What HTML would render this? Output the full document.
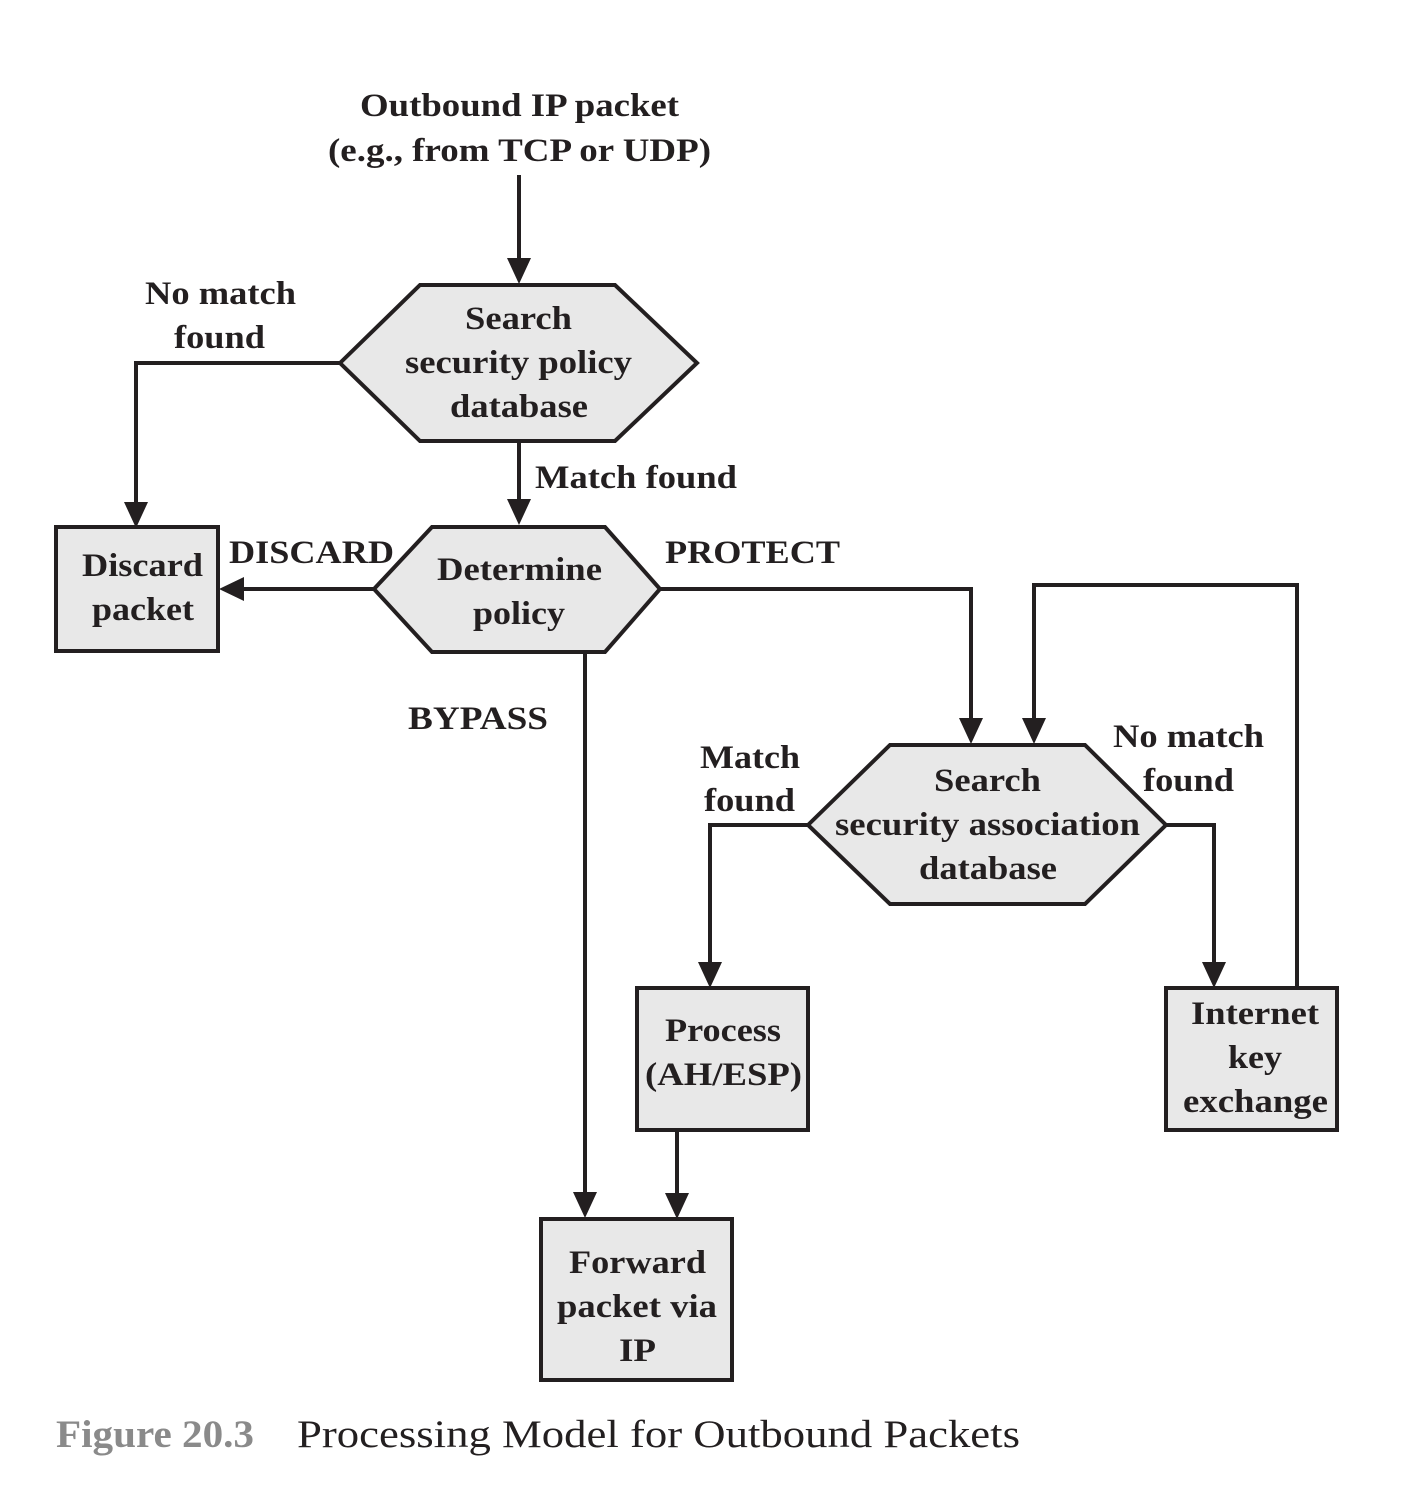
<!DOCTYPE html>
<html><head><meta charset="utf-8"><style>html,body{margin:0;padding:0;background:#fff}</style></head>
<body>
<svg width="1402" height="1500" viewBox="0 0 1402 1500" xmlns="http://www.w3.org/2000/svg">
<g stroke="#231f20" stroke-width="4" fill="none">
<line x1="519" y1="175" x2="519" y2="262"/>
<polyline points="340,363 136,363 136,506"/>
<line x1="519" y1="441" x2="519" y2="503"/>
<line x1="374" y1="589" x2="240" y2="589"/>
<polyline points="660,589 971,589 971,722"/>
<line x1="585" y1="652" x2="585" y2="1196"/>
<polyline points="1297,988 1297,585 1034,585 1034,722"/>
<polyline points="1166,825 1214,825 1214,966"/>
<polyline points="808,825 710,825 710,966"/>
<line x1="677" y1="1130" x2="677" y2="1197"/>
</g>
<g fill="#231f20">
<polygon points="507,258 531,258 519,284"/>
<polygon points="124,502 148,502 136,528"/>
<polygon points="507,499 531,499 519,525"/>
<polygon points="244,577 244,601 219,589"/>
<polygon points="959,718 983,718 971,744"/>
<polygon points="573,1192 597,1192 585,1218"/>
<polygon points="1022,718 1046,718 1034,744"/>
<polygon points="1202,962 1226,962 1214,988"/>
<polygon points="698,962 722,962 710,988"/>
<polygon points="665,1193 689,1193 677,1219"/>
</g>
<g stroke="#231f20" stroke-width="4" fill="#e8e8e8">
<polygon points="340,363 420,285 615,285 697,363 615,441 420,441"/>
<polygon points="374,589 432,527 605,527 660,589 605,652 432,652"/>
<rect x="56" y="527" width="162" height="124"/>
<polygon points="808,825 890,745 1085,745 1166,825 1085,904 890,904"/>
<rect x="1166" y="988" width="171" height="142"/>
<rect x="637" y="988" width="171" height="142"/>
<rect x="541" y="1219" width="191" height="161"/>
</g>
<g font-family="Liberation Serif, serif" font-weight="bold" font-size="33" fill="#231f20" lengthAdjust="spacingAndGlyphs">
<text x="360" y="116" textLength="319" lengthAdjust="spacingAndGlyphs">Outbound IP packet</text>
<text x="328" y="161" textLength="383" lengthAdjust="spacingAndGlyphs">(e.g., from TCP or UDP)</text>
<text x="465" y="329" textLength="107" lengthAdjust="spacingAndGlyphs">Search</text>
<text x="405" y="373" textLength="227" lengthAdjust="spacingAndGlyphs">security policy</text>
<text x="450" y="417" textLength="138" lengthAdjust="spacingAndGlyphs">database</text>
<text x="145" y="304" textLength="151" lengthAdjust="spacingAndGlyphs">No match</text>
<text x="174" y="348" textLength="91" lengthAdjust="spacingAndGlyphs">found</text>
<text x="535" y="488" textLength="202" lengthAdjust="spacingAndGlyphs">Match found</text>
<text x="437" y="580" textLength="165" lengthAdjust="spacingAndGlyphs">Determine</text>
<text x="473" y="624" textLength="92" lengthAdjust="spacingAndGlyphs">policy</text>
<text x="82" y="576" textLength="121" lengthAdjust="spacingAndGlyphs">Discard</text>
<text x="92" y="620" textLength="102" lengthAdjust="spacingAndGlyphs">packet</text>
<text x="229" y="563" textLength="165" lengthAdjust="spacingAndGlyphs">DISCARD</text>
<text x="665" y="563" textLength="175" lengthAdjust="spacingAndGlyphs">PROTECT</text>
<text x="408" y="729" textLength="140" lengthAdjust="spacingAndGlyphs">BYPASS</text>
<text x="934" y="791" textLength="107" lengthAdjust="spacingAndGlyphs">Search</text>
<text x="835" y="835" textLength="305" lengthAdjust="spacingAndGlyphs">security association</text>
<text x="919" y="879" textLength="138" lengthAdjust="spacingAndGlyphs">database</text>
<text x="1113" y="747" textLength="151" lengthAdjust="spacingAndGlyphs">No match</text>
<text x="1143" y="791" textLength="91" lengthAdjust="spacingAndGlyphs">found</text>
<text x="700" y="768" textLength="100" lengthAdjust="spacingAndGlyphs">Match</text>
<text x="704" y="811" textLength="91" lengthAdjust="spacingAndGlyphs">found</text>
<text x="665" y="1041" textLength="116" lengthAdjust="spacingAndGlyphs">Process</text>
<text x="645" y="1085" textLength="157" lengthAdjust="spacingAndGlyphs">(AH/ESP)</text>
<text x="1191" y="1024" textLength="128" lengthAdjust="spacingAndGlyphs">Internet</text>
<text x="1228" y="1068" textLength="54" lengthAdjust="spacingAndGlyphs">key</text>
<text x="1183" y="1112" textLength="145" lengthAdjust="spacingAndGlyphs">exchange</text>
<text x="569" y="1273" textLength="137" lengthAdjust="spacingAndGlyphs">Forward</text>
<text x="557" y="1317" textLength="160" lengthAdjust="spacingAndGlyphs">packet via</text>
<text x="619" y="1361" textLength="37" lengthAdjust="spacingAndGlyphs">IP</text>
</g>
<text x="56" y="1447" font-family="Liberation Serif, serif" font-weight="bold" font-size="39" fill="#8a8a8a" textLength="198" lengthAdjust="spacingAndGlyphs">Figure 20.3</text>
<text x="297" y="1447" font-family="Liberation Serif, serif" font-size="39" fill="#231f20" textLength="723" lengthAdjust="spacingAndGlyphs">Processing Model for Outbound Packets</text>
</svg>
</body></html>
